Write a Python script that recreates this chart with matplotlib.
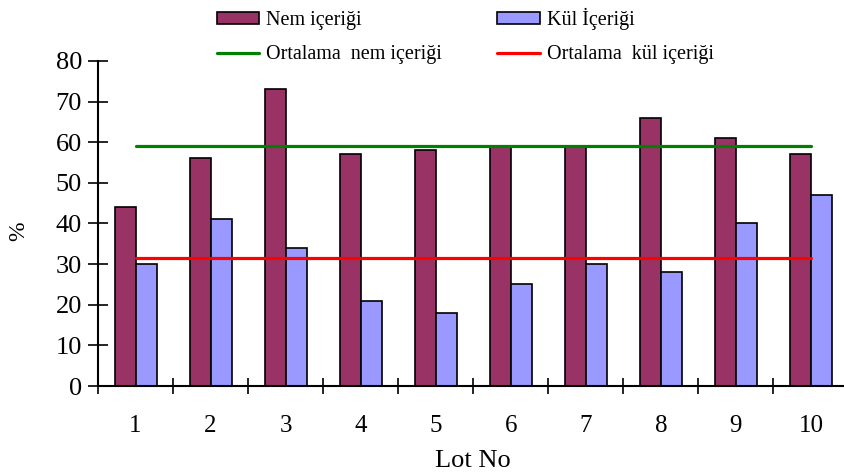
import numpy as np
import matplotlib.pyplot as plt
from matplotlib.ticker import FixedLocator, NullFormatter

plt.rcParams['font.family'] = ['Liberation Serif', 'DejaVu Serif']

lots = [1, 2, 3, 4, 5, 6, 7, 8, 9, 10]
lot_labels = ['1', '2', '3', '4', '5', '6', '7', '8', '9', '10']
nem = [44, 56, 73, 57, 58, 59, 59, 66, 61, 57]
kul = [30, 41, 34, 21, 18, 25, 30, 28, 40, 47]

nem_ort = np.mean(nem)
kul_ort = np.mean(kul)

fig = plt.figure(figsize=(8.45, 4.76), dpi=100)
ax = fig.add_axes([0.116, 0.189, 0.888, 0.683])

x = np.array(lots, dtype=float)
w = 0.28
b1 = ax.bar(x - w / 2, nem, w, color='#993366', edgecolor='black', linewidth=1.2,
            label='Nem içeriği')
b2 = ax.bar(x + w / 2, kul, w, color='#9999FF', edgecolor='black', linewidth=1.2,
            label='Kül İçeriği')
l1, = ax.plot([x[0], x[-1]], [nem_ort, nem_ort], color='#008000', lw=2.3,
              solid_capstyle='round', label='Ortalama  nem içeriği')
l2, = ax.plot([x[0], x[-1]], [kul_ort, kul_ort], color='#FF0000', lw=2.3,
              solid_capstyle='round', label='Ortalama  kül içeriği')

ax.set_xlim(0.5, 10.5)
ax.set_ylim(0, 80)
ax.set_yticks(range(0, 81, 10))

# ticks sit between the lots, labels under each lot
ax.xaxis.set_major_locator(FixedLocator(np.arange(0.5, 11, 1)))
ax.xaxis.set_major_formatter(NullFormatter())
ax.xaxis.set_minor_locator(FixedLocator(x))
ax.set_xticklabels(lot_labels, minor=True)
ax.tick_params(axis='x', which='major', direction='inout', length=12, width=1.2)
ax.tick_params(axis='x', which='minor', length=0, pad=21, labelsize=18)
ax.tick_params(axis='y', direction='inout', length=14, width=1.2, pad=4.5, labelsize=19)

for s in ['top', 'right']:
    ax.spines[s].set_visible(False)
for s in ['left', 'bottom']:
    ax.spines[s].set_linewidth(1.5)

ax.set_xlabel('Lot No', fontsize=19, labelpad=9)
ax.set_ylabel('%', fontsize=17)
ax.yaxis.set_label_coords(-0.092, 0.477)

fig.legend([b1, l1, b2, l2],
           ['Nem içeriği', 'Ortalama  nem içeriği', 'Kül İçeriği', 'Ortalama  kül içeriği'],
           ncol=2, loc='upper left', bbox_to_anchor=(0.24, 1.013), frameon=False,
           fontsize=14.5, borderpad=0.2, handlelength=2.1, handleheight=0.55,
           handletextpad=0.35, columnspacing=2.75, labelspacing=0.75)

fig.savefig('out.png', dpi=100)
